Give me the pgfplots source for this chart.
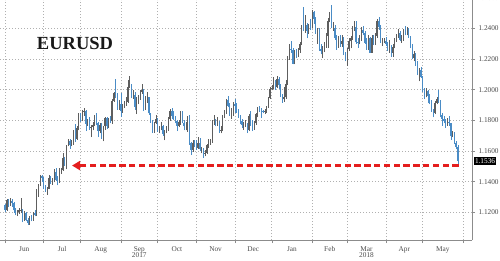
\documentclass[border=0pt]{standalone}
\usepackage{fontspec}
\setmainfont{Liberation Serif}
\usepackage{pgfplots}
\usepackage{pgfplotstable}
\pgfplotsset{compat=1.18}
\usetikzlibrary{arrows.meta}
\definecolor{upc}{HTML}{5E5E5E}
\definecolor{dnc}{HTML}{4A8CC6}
\definecolor{gridc}{HTML}{B0B0B0}
\definecolor{axc}{HTML}{8C8C8C}
\definecolor{txt}{HTML}{4A4A4A}
\definecolor{arr}{HTML}{E41E1E}

\pgfplotstableread{
x o h l c
0 1.1245 1.1255 1.1205 1.1215
1 1.1215 1.1285 1.1209 1.1282
2 1.1282 1.1290 1.1235 1.1250
3 1.1250 1.1296 1.1240 1.1275
4 1.1275 1.1285 1.1235 1.1260
5 1.1260 1.1270 1.1195 1.1212
6 1.1212 1.1230 1.1180 1.1195
7 1.1195 1.1215 1.1175 1.1200
8 1.1200 1.1230 1.1190 1.1212
9 1.1212 1.1296 1.1195 1.1215
10 1.1215 1.1220 1.1135 1.1150
11 1.1150 1.1210 1.1145 1.1197
12 1.1197 1.1205 1.1140 1.1148
13 1.1148 1.1160 1.1118 1.1132
14 1.1132 1.1175 1.1120 1.1165
15 1.1165 1.1180 1.1140 1.1151
16 1.1151 1.1200 1.1145 1.1195
17 1.1195 1.1215 1.1175 1.1180
18 1.1180 1.1350 1.1175 1.1337
19 1.1337 1.1385 1.1300 1.1375
20 1.1375 1.1445 1.1370 1.1440
21 1.1440 1.1445 1.1400 1.1425
22 1.1425 1.1430 1.1350 1.1360
23 1.1360 1.1375 1.1335 1.1347
24 1.1347 1.1365 1.1315 1.1355
25 1.1355 1.1445 1.1350 1.1423
26 1.1423 1.1435 1.1385 1.1400
27 1.1400 1.1425 1.1380 1.1400
28 1.1400 1.1480 1.1395 1.1464
29 1.1464 1.1490 1.1405 1.1413
30 1.1413 1.1440 1.1375 1.1398
31 1.1398 1.1490 1.1390 1.1470
32 1.1470 1.1490 1.1450 1.1475
33 1.1475 1.1585 1.1470 1.1556
34 1.1556 1.1560 1.1505 1.1515
35 1.1515 1.1640 1.1480 1.1634
36 1.1634 1.1680 1.1630 1.1665
37 1.1665 1.1680 1.1615 1.1640
38 1.1640 1.1670 1.1630 1.1650
39 1.1650 1.1740 1.1640 1.1733
40 1.1733 1.1775 1.1660 1.1680
41 1.1680 1.1760 1.1675 1.1750
42 1.1750 1.1845 1.1735 1.1840
43 1.1840 1.1845 1.1790 1.1803
44 1.1803 1.1868 1.1795 1.1857
45 1.1857 1.1880 1.1830 1.1862
46 1.1862 1.1870 1.1730 1.1775
47 1.1775 1.1810 1.1765 1.1792
48 1.1792 1.1825 1.1740 1.1754
49 1.1754 1.1770 1.1690 1.1757
50 1.1757 1.1790 1.1735 1.1772
51 1.1772 1.1835 1.1765 1.1822
52 1.1822 1.1845 1.1770 1.1780
53 1.1780 1.1790 1.1690 1.1730
54 1.1730 1.1780 1.1715 1.1770
55 1.1770 1.1780 1.1680 1.1723
56 1.1723 1.1765 1.1662 1.1760
57 1.1760 1.1825 1.1740 1.1813
58 1.1813 1.1820 1.1745 1.1760
59 1.1760 1.1815 1.1750 1.1803
60 1.1803 1.1830 1.1780 1.1798
61 1.1798 1.1940 1.1775 1.1925
62 1.1925 1.1985 1.1920 1.1978
63 1.1978 1.2070 1.1945 1.1970
64 1.1970 1.1980 1.1870 1.1888
65 1.1888 1.1930 1.1870 1.1909
66 1.1909 1.1980 1.1825 1.1858
67 1.1858 1.1905 1.1850 1.1890
68 1.1890 1.1925 1.1880 1.1915
69 1.1915 1.1950 1.1895 1.1920
70 1.1920 1.2060 1.1915 1.2020
71 1.2020 1.2092 1.2010 1.2035
72 1.2035 1.2040 1.1945 1.1955
73 1.1955 1.1995 1.1940 1.1966
74 1.1966 1.1985 1.1870 1.1888
75 1.1888 1.1950 1.1840 1.1920
76 1.1920 1.1965 1.1905 1.1945
77 1.1945 1.2000 1.1935 1.1985
78 1.1985 1.2035 1.1975 1.1995
79 1.1995 1.2005 1.1860 1.1890
80 1.1890 1.1960 1.1870 1.1940
81 1.1940 1.1985 1.1915 1.1950
82 1.1950 1.1955 1.1835 1.1845
83 1.1845 1.1850 1.1785 1.1795
84 1.1795 1.1800 1.1717 1.1745
85 1.1745 1.1790 1.1720 1.1785
86 1.1785 1.1835 1.1775 1.1812
87 1.1812 1.1815 1.1725 1.1733
88 1.1733 1.1765 1.1715 1.1740
89 1.1740 1.1790 1.1735 1.1760
90 1.1760 1.1770 1.1700 1.1710
91 1.1710 1.1740 1.1670 1.1730
92 1.1730 1.1765 1.1715 1.1740
93 1.1740 1.1820 1.1730 1.1810
94 1.1810 1.1875 1.1795 1.1860
95 1.1860 1.1880 1.1810 1.1830
96 1.1830 1.1860 1.1805 1.1820
97 1.1820 1.1830 1.1780 1.1795
98 1.1795 1.1805 1.1730 1.1765
99 1.1765 1.1800 1.1755 1.1790
100 1.1790 1.1860 1.1770 1.1850
101 1.1850 1.1860 1.1780 1.1785
102 1.1785 1.1800 1.1735 1.1760
103 1.1760 1.1790 1.1735 1.1760
104 1.1760 1.1830 1.1725 1.1815
105 1.1815 1.1835 1.1640 1.1650
106 1.1650 1.1660 1.1575 1.1605
107 1.1605 1.1670 1.1595 1.1650
108 1.1650 1.1670 1.1625 1.1645
109 1.1645 1.1670 1.1605 1.1620
110 1.1620 1.1690 1.1615 1.1655
111 1.1655 1.1685 1.1600 1.1610
112 1.1610 1.1625 1.1585 1.1610
113 1.1610 1.1620 1.1554 1.1585
114 1.1585 1.1605 1.1565 1.1590
115 1.1590 1.1645 1.1580 1.1640
116 1.1640 1.1680 1.1620 1.1665
117 1.1665 1.1680 1.1640 1.1665
118 1.1665 1.1805 1.1655 1.1795
119 1.1795 1.1835 1.1770 1.1795
120 1.1795 1.1810 1.1760 1.1770
121 1.1770 1.1820 1.1765 1.1790
122 1.1790 1.1795 1.1720 1.1730
123 1.1730 1.1760 1.1715 1.1735
124 1.1735 1.1835 1.1730 1.1825
125 1.1825 1.1865 1.1815 1.1855
126 1.1855 1.1940 1.1840 1.1930
127 1.1930 1.1961 1.1885 1.1895
128 1.1895 1.1910 1.1830 1.1845
129 1.1845 1.1880 1.1810 1.1845
130 1.1845 1.1920 1.1830 1.1905
131 1.1905 1.1940 1.1850 1.1895
132 1.1895 1.1915 1.1850 1.1865
133 1.1865 1.1875 1.1815 1.1825
134 1.1825 1.1835 1.1775 1.1795
135 1.1795 1.1810 1.1750 1.1770
136 1.1770 1.1790 1.1740 1.1770
137 1.1770 1.1800 1.1755 1.1770
138 1.1770 1.1785 1.1717 1.1740
139 1.1740 1.1840 1.1730 1.1830
140 1.1830 1.1860 1.1765 1.1780
141 1.1780 1.1800 1.1730 1.1750
142 1.1750 1.1795 1.1740 1.1780
143 1.1780 1.1850 1.1770 1.1840
144 1.1840 1.1885 1.1820 1.1875
145 1.1875 1.1895 1.1855 1.1870
146 1.1870 1.1880 1.1815 1.1860
147 1.1860 1.1870 1.1845 1.1855
148 1.1855 1.1875 1.1840 1.1860
149 1.1860 1.1895 1.1850 1.1885
150 1.1885 1.1950 1.1880 1.1945
151 1.1945 1.2020 1.1940 1.2005
152 1.2005 1.2030 1.1995 1.2010
153 1.2010 1.2081 1.2005 1.2060
154 1.2060 1.2065 1.2000 1.2015
155 1.2015 1.2090 1.2010 1.2070
156 1.2070 1.2085 1.2005 1.2030
157 1.2030 1.2035 1.1955 1.1968
158 1.1968 1.1975 1.1915 1.1937
159 1.1937 1.2015 1.1920 1.1950
160 1.1950 1.2060 1.1940 1.2035
161 1.2035 1.2220 1.2030 1.2200
162 1.2200 1.2295 1.2195 1.2265
163 1.2265 1.2320 1.2240 1.2262
164 1.2262 1.2270 1.2165 1.2170
165 1.2170 1.2260 1.2165 1.2235
166 1.2235 1.2265 1.2210 1.2220
167 1.2220 1.2270 1.2215 1.2260
168 1.2260 1.2310 1.2240 1.2300
169 1.2300 1.2420 1.2290 1.2410
170 1.2410 1.2537 1.2385 1.2395
171 1.2395 1.2490 1.2370 1.2425
172 1.2425 1.2435 1.2335 1.2385
173 1.2385 1.2430 1.2365 1.2415
174 1.2415 1.2460 1.2390 1.2414
175 1.2414 1.2520 1.2405 1.2510
176 1.2510 1.2515 1.2430 1.2460
177 1.2460 1.2475 1.2365 1.2370
178 1.2370 1.2405 1.2300 1.2375
179 1.2375 1.2400 1.2255 1.2265
180 1.2265 1.2295 1.2230 1.2250
181 1.2250 1.2285 1.2206 1.2250
182 1.2250 1.2310 1.2245 1.2290
183 1.2290 1.2370 1.2275 1.2350
184 1.2350 1.2470 1.2275 1.2450
185 1.2450 1.2510 1.2440 1.2505
186 1.2505 1.2555 1.2400 1.2405
187 1.2405 1.2440 1.2385 1.2405
188 1.2405 1.2420 1.2325 1.2340
189 1.2340 1.2360 1.2260 1.2285
190 1.2285 1.2350 1.2275 1.2330
191 1.2330 1.2355 1.2280 1.2295
192 1.2295 1.2355 1.2280 1.2320
193 1.2320 1.2345 1.2225 1.2230
194 1.2230 1.2245 1.2185 1.2195
195 1.2195 1.2275 1.2155 1.2265
196 1.2265 1.2335 1.2250 1.2315
197 1.2315 1.2350 1.2270 1.2335
198 1.2335 1.2415 1.2325 1.2405
199 1.2405 1.2445 1.2385 1.2410
200 1.2410 1.2445 1.2300 1.2310
201 1.2310 1.2335 1.2275 1.2305
202 1.2305 1.2355 1.2295 1.2335
203 1.2335 1.2410 1.2320 1.2390
204 1.2390 1.2415 1.2355 1.2370
205 1.2370 1.2380 1.2300 1.2305
206 1.2305 1.2335 1.2260 1.2290
207 1.2290 1.2355 1.2260 1.2340
208 1.2340 1.2345 1.2240 1.2240
209 1.2240 1.2355 1.2240 1.2340
210 1.2340 1.2360 1.2290 1.2300
211 1.2300 1.2370 1.2290 1.2350
212 1.2350 1.2460 1.2340 1.2450
213 1.2450 1.2476 1.2390 1.2410
214 1.2410 1.2420 1.2305 1.2310
215 1.2310 1.2340 1.2285 1.2320
216 1.2320 1.2335 1.2305 1.2320
217 1.2320 1.2345 1.2285 1.2300
218 1.2300 1.2310 1.2255 1.2270
219 1.2270 1.2325 1.2240 1.2275
220 1.2275 1.2290 1.2215 1.2240
221 1.2240 1.2295 1.2215 1.2280
222 1.2280 1.2335 1.2270 1.2320
223 1.2320 1.2365 1.2310 1.2355
224 1.2355 1.2395 1.2340 1.2370
225 1.2370 1.2380 1.2315 1.2325
226 1.2325 1.2360 1.2305 1.2330
227 1.2330 1.2395 1.2320 1.2380
228 1.2380 1.2415 1.2355 1.2375
229 1.2375 1.2410 1.2355 1.2375
230 1.2375 1.2400 1.2340 1.2345
231 1.2345 1.2350 1.2270 1.2285
232 1.2285 1.2295 1.2200 1.2210
233 1.2210 1.2255 1.2185 1.2235
234 1.2235 1.2240 1.2155 1.2160
235 1.2160 1.2190 1.2095 1.2100
236 1.2100 1.2140 1.2055 1.2130
237 1.2130 1.2150 1.2075 1.2080
238 1.2080 1.2090 1.1985 1.1990
239 1.1990 1.2010 1.1940 1.1950
240 1.1950 1.2010 1.1950 1.1990
241 1.1990 1.2000 1.1910 1.1960
242 1.1960 1.1970 1.1905 1.1925
243 1.1925 1.1935 1.1855 1.1865
244 1.1865 1.1875 1.1820 1.1850
245 1.1850 1.1925 1.1840 1.1915
246 1.1915 1.1955 1.1905 1.1940
247 1.1940 1.1996 1.1915 1.1925
248 1.1925 1.1930 1.1820 1.1835
249 1.1835 1.1845 1.1765 1.1810
250 1.1810 1.1830 1.1780 1.1795
251 1.1795 1.1810 1.1750 1.1770
252 1.1770 1.1815 1.1765 1.1790
253 1.1790 1.1830 1.1765 1.1780
254 1.1780 1.1785 1.1675 1.1695
255 1.1695 1.1730 1.1690 1.1720
256 1.1720 1.1725 1.1645 1.1655
257 1.1655 1.1665 1.1610 1.1625
258 1.1625 1.1640 1.1510 1.1536
}\data

\begin{document}
\begin{tikzpicture}
\begin{axis}[
  at={(0pt,21pt)}, anchor=south west,
  scale only axis, width=472pt, height=240pt,
  xmin=-2.85, xmax=266.1, ymin=1.1019, ymax=1.2585,
  axis x line*=bottom, axis y line*=right,
  axis line style={axc, line width=0.6pt},
  xtick={0,22,43,66,87,109,131,152,175,195,217,238,261},
  xticklabels={Jun,Jul,Aug,Sep,Oct,Nov,Dec,Jan,Feb,Mar,Apr,May},
  x tick label as interval,
  ytick={1.12,1.14,1.16,1.18,1.20,1.22,1.24},
  y tick label style={/pgf/number format/fixed, /pgf/number format/fixed zerofill, /pgf/number format/precision=4, /pgf/number format/assume math mode=true},
  tick align=outside, major tick length=3pt,
  tick style={axc, line width=0.5pt},
  grid=major, grid style={gridc, dash pattern=on 0.8pt off 2.2pt, line width=0.6pt},
  ticklabel style={font=\fontsize{7.3}{8}\selectfont, text=txt},
  clip=false,
]
% up candles
\addplot[draw=none, mark=none, restrict expr to domain={\thisrow{c}-\thisrow{o}}{0:1},
  error bars/.cd, y dir=plus, y explicit, error mark=none, error bar style={upc, line width=0.45pt}]
  table[x=x, y=l, y error plus expr=\thisrow{h}-\thisrow{l}] {\data};
\addplot[draw=none, mark=none, restrict expr to domain={\thisrow{c}-\thisrow{o}}{0:1},
  error bars/.cd, y dir=plus, y explicit, error mark=none, error bar style={upc, line width=1.15pt}]
  table[x=x, y=o, y error plus expr=\thisrow{c}-\thisrow{o}] {\data};
% down candles
\addplot[draw=none, mark=none, restrict expr to domain={\thisrow{c}-\thisrow{o}}{-1:-0.00001},
  error bars/.cd, y dir=plus, y explicit, error mark=none, error bar style={dnc, line width=0.45pt}]
  table[x=x, y=l, y error plus expr=\thisrow{h}-\thisrow{l}] {\data};
\addplot[draw=none, mark=none, restrict expr to domain={\thisrow{c}-\thisrow{o}}{-1:-0.00001},
  error bars/.cd, y dir=plus, y explicit, error mark=none, error bar style={dnc, line width=1.15pt}]
  table[x=x, y=c, y error plus expr=\thisrow{o}-\thisrow{c}] {\data};
% red dashed arrow at the low
\addplot[arr, line width=3pt, dash pattern=on 6.5pt off 3.3pt, mark=none,
  -{Triangle[length=8pt, width=9pt]}] coordinates {(258.6,1.1505) (38.2,1.1505)};
% annotations
\node[font=\fontsize{18.5}{20}\selectfont\bfseries, text=black!90] at (axis cs:39.9,1.2304) {EURUSD};
\node[fill=black, text=white, inner sep=1.3pt, anchor=west, xshift=1.5pt, font=\fontsize{7.3}{8}\selectfont] at (axis cs:266.1,1.1536) {1.1536};
\node[anchor=west, xshift=3pt, font=\fontsize{7.3}{8}\selectfont, text=txt] at (axis cs:266.1,1.26) {1.2600};
\node[font=\fontsize{7.3}{8}\selectfont, text=txt, yshift=-15pt] at (axis cs:76.5,1.1019) {2017};
\node[font=\fontsize{7.3}{8}\selectfont, text=txt, yshift=-15pt] at (axis cs:206,1.1019) {2018};
\draw[axc, line width=0.5pt] (axis cs:152,1.1019) ++(0,-8pt) -- ++(0,-10pt);
\end{axis}
\pgfresetboundingbox
\path[use as bounding box] (0,0) rectangle (500pt,261pt);
\end{tikzpicture}
\end{document}
